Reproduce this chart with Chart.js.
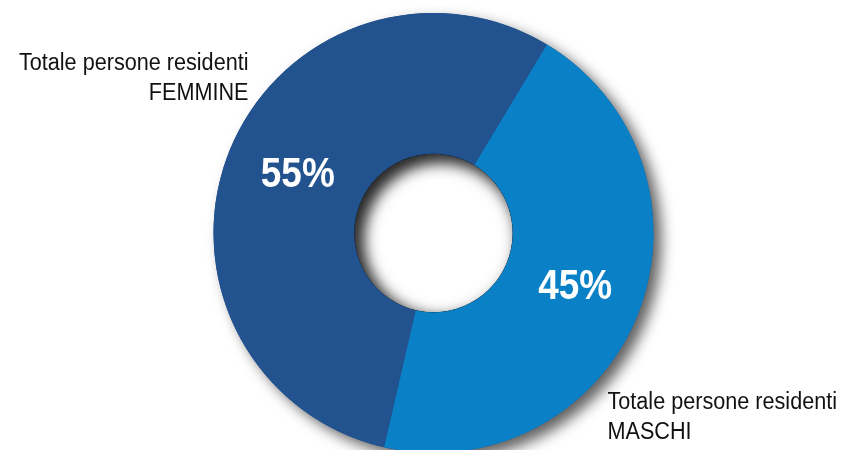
<!DOCTYPE html>
<html>
<head>
<meta charset="utf-8">
<script src="https://cdn.jsdelivr.net/npm/chart.js@4.4.0/dist/chart.umd.min.js"></script>
<style>
    html, body { margin: 0; padding: 0; background: #fff; overflow: hidden; }
    #wrap { width: 843px; height: 466px; position: relative; }
</style>
</head>
<body>
<div id="wrap"><canvas id="ringChart"></canvas></div>
<script>
const categories = ['MASCHI', 'FEMMINE'];
const labelPrefix = 'Totale persone residenti';
const values = [45, 55];
const colors = ['#0a80c6', '#22538f'];

const FONT = '"Liberation Sans", Arial, sans-serif';

// testo "stretto": scala orizzontale sul font normale
function narrowText(ctx, text, x, y, align, sx) {
    const w = ctx.measureText(text).width * sx;
    let left = x;
    if (align === 'right') left = x - w;
    if (align === 'center') left = x - w / 2;
    ctx.save();
    ctx.translate(left, y);
    ctx.scale(sx, 1);
    ctx.textAlign = 'left';
    ctx.fillText(text, 0, 0);
    ctx.restore();
}

// ombra esterna sotto l'anello intero + ombra interna del foro
const shadowPlugin = {
    id: 'ringShadow',
    beforeDatasetsDraw(chart) {
        const arc = chart.getDatasetMeta(0).data[0];
        const ctx = chart.ctx;
        ctx.save();
        ctx.beginPath();
        ctx.arc(arc.x, arc.y, arc.outerRadius, 0, Math.PI * 2);
        ctx.arc(arc.x, arc.y, arc.innerRadius, 0, Math.PI * 2, true);
        ctx.shadowColor = 'rgba(0,0,0,0.62)';
        ctx.shadowBlur = 14;
        ctx.shadowOffsetX = 8;
        ctx.shadowOffsetY = 7;
        ctx.fillStyle = colors[1];
        ctx.fill();
        ctx.restore();
    },
    afterDatasetsDraw(chart) {
        const arc = chart.getDatasetMeta(0).data[0];
        const ctx = chart.ctx;
        const r = arc.innerRadius;
        ctx.save();
        ctx.beginPath();
        ctx.arc(arc.x, arc.y, r, 0, Math.PI * 2);
        ctx.clip();
        ctx.beginPath();
        ctx.arc(arc.x, arc.y, r + 40, 0, Math.PI * 2);
        ctx.arc(arc.x, arc.y, r, 0, Math.PI * 2, true);
        ctx.shadowColor = 'rgba(0,0,0,0.65)';
        ctx.shadowBlur = 18;
        ctx.shadowOffsetX = 7;
        ctx.shadowOffsetY = 7;
        ctx.fillStyle = '#000';
        ctx.fill();
        ctx.restore();
    }
};

// percentuali e etichette
const labelPlugin = {
    id: 'ringLabels',
    afterDraw(chart) {
        const ctx = chart.ctx;
        const meta = chart.getDatasetMeta(0);
        ctx.save();
        ctx.fillStyle = '#fff';
        ctx.font = 'bold 42px ' + FONT;
        ctx.textBaseline = 'middle';
        meta.data.forEach((arc, i) => {
            const p = arc.tooltipPosition();
            narrowText(ctx, values[i] + '%', p.x + 3, p.y - 2, 'center', 0.88);
        });

        ctx.fillStyle = '#111';
        ctx.font = '23px ' + FONT;
        ctx.textBaseline = 'alphabetic';
        const c = meta.data[0];
        // FEMMINE in alto a sinistra
        narrowText(ctx, labelPrefix, c.x - 185, 70, 'right', 0.94);
        narrowText(ctx, categories[1], c.x - 185, 100, 'right', 0.94);
        // MASCHI in basso a destra
        narrowText(ctx, labelPrefix, c.x + 174, 409, 'left', 0.94);
        narrowText(ctx, categories[0], c.x + 174, 439, 'left', 0.94);
        ctx.restore();
    }
};

new Chart(document.getElementById('ringChart'), {
    type: 'doughnut',
    data: {
        labels: categories,
        datasets: [{
            data: values,
            backgroundColor: colors,
            borderWidth: 0
        }]
    },
    options: {
        responsive: true,
        maintainAspectRatio: false,
        animation: false,
        rotation: 31,
        cutout: '36%',
        layout: { padding: { top: 13, bottom: 13, left: 24, right: 0 } },
        plugins: {
            legend: { display: false },
            tooltip: { enabled: false }
        }
    },
    plugins: [shadowPlugin, labelPlugin]
});
</script>
</body>
</html>
